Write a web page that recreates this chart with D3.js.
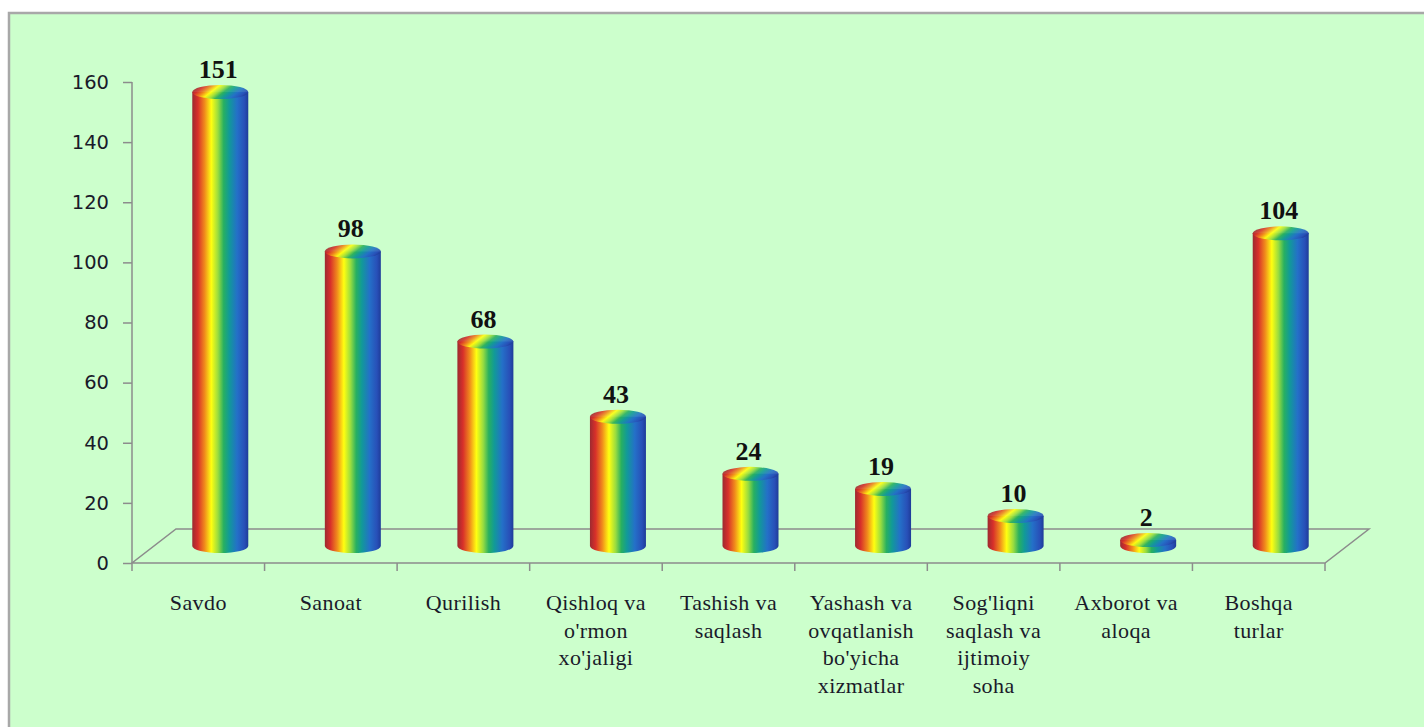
<!DOCTYPE html>
<html>
<head>
<meta charset="utf-8">
<script src="https://cdn.jsdelivr.net/npm/d3@7"></script>
<style>
  html, body { margin: 0; padding: 0; background: #fff; }
  svg { display: block; }
</style>
</head>
<body>
<div id="chart"></div>
<script>
// data
const categories = ['Savdo', 'Sanoat', 'Qurilish', 'Qishloq va', 'Tashish va', 'Yashash va', "Sog'liqni", 'Axborot va', 'Boshqa']
const categoryLabels = [
  ['Savdo'],
  ['Sanoat'],
  ['Qurilish'],
  ['Qishloq va', "o'rmon", "xo'jaligi"],
  ['Tashish va', 'saqlash'],
  ['Yashash va', 'ovqatlanish', "bo'yicha", 'xizmatlar'],
  ["Sog'liqni", 'saqlash va', 'ijtimoiy', 'soha'],
  ['Axborot va', 'aloqa'],
  ['Boshqa', 'turlar']
]
const values = [151, 98, 68, 43, 24, 19, 10, 2, 104]
const yTicks = [0, 20, 40, 60, 80, 100, 120, 140, 160]

const W = 1424, H = 727
const margin = { top: 82, left: 132, right: 99, bottom: 164 }
const depth = { dx: 44, dy: -34 }   // 3d floor offset
const cylW = 56, ry = 7
const serif = "'Liberation Serif', 'Times New Roman', serif"

const svg = d3.select('#chart').append('svg')
  .attr('width', W).attr('height', H)

// background frame
svg.append('rect')
  .attr('x', 9).attr('y', 13)
  .attr('width', W + 20).attr('height', H + 20)
  .attr('fill', '#ccffcc')
  .attr('stroke', '#a8a8a8').attr('stroke-width', 2.5)

const x = d3.scaleBand()
  .domain(categories)
  .range([margin.left, W - margin.right])
const y = d3.scaleLinear()
  .domain([0, 160])
  .range([H - margin.bottom, margin.top])

// gradients
const defs = svg.append('defs')
const stops = [
  [0, '#9c2a30'], [0.1, '#d8302a'], [0.22, '#f08a1c'], [0.34, '#ffff10'],
  [0.46, '#98dc40'], [0.56, '#28b060'], [0.66, '#119a98'], [0.8, '#2470c8'],
  [0.93, '#2850b8'], [1, '#1e3c98']
]
const sideGrad = defs.append('linearGradient').attr('id', 'side')
  .attr('x1', 0).attr('x2', 1).attr('y1', 0).attr('y2', 0)
sideGrad.selectAll('stop').data(stops).join('stop')
  .attr('offset', d => d[0]).attr('stop-color', d => d[1])
const topGrad = defs.append('linearGradient').attr('id', 'topface')
  .attr('x1', 0).attr('x2', 1).attr('y1', 0).attr('y2', 0)
  .attr('gradientTransform', 'rotate(18 0.5 0.5)')
topGrad.selectAll('stop').data(stops).join('stop')
  .attr('offset', d => d[0]).attr('stop-color', d => d[1])
  .attr('stop-opacity', 0.9)

const axisColor = '#8c8c8c'
const y0 = y(0)

// floor
svg.append('path')
  .attr('d', `M${x.range()[0]},${y0} L${x.range()[1]},${y0} L${x.range()[1] + depth.dx},${y0 + depth.dy} L${x.range()[0] + depth.dx},${y0 + depth.dy} Z`)
  .attr('fill', 'none').attr('stroke', axisColor).attr('stroke-width', 1.5)

// y axis
const yAxis = svg.append('g')
  .attr('transform', `translate(${margin.left},0)`)
  .call(d3.axisLeft(y).tickValues(yTicks).tickSize(9).tickPadding(14))
yAxis.selectAll('path, line').attr('stroke', axisColor).attr('stroke-width', 1.5)
yAxis.select('.domain').attr('d', `M0,${y.range()[1]}V${y.range()[0]}`)
yAxis.selectAll('text')
  .attr('font-family', "'DejaVu Sans', Verdana, sans-serif")
  .attr('font-size', 19.5).attr('fill', '#1a1a2a')

// x ticks at band boundaries
const bounds = categories.map(c => x(c)).concat([x.range()[1]])
svg.append('g').selectAll('line').data(bounds).join('line')
  .attr('x1', d => d).attr('x2', d => d)
  .attr('y1', y0).attr('y2', y0 + 8)
  .attr('stroke', axisColor).attr('stroke-width', 1.5)

// cylinders
const baseY = y0 + depth.dy / 2
const h = v => y(0) - y(v)
const bars = svg.append('g').selectAll('g').data(values).join('g')
  .attr('transform', (d, i) => `translate(${x(categories[i]) + x.bandwidth() / 2 + depth.dx / 2},0)`)

bars.append('path')
  .attr('d', d => {
    const t = baseY - h(d)
    return `M${-cylW / 2},${t} L${-cylW / 2},${baseY} A${cylW / 2},${ry} 0 0 0 ${cylW / 2},${baseY} L${cylW / 2},${t} Z`
  })
  .attr('fill', 'url(#side)')
bars.append('ellipse')
  .attr('cx', 0).attr('cy', d => baseY - h(d))
  .attr('rx', cylW / 2).attr('ry', ry)
  .attr('fill', 'url(#topface)')

// value labels
bars.append('text')
  .attr('x', -2).attr('y', d => baseY - h(d) - 14)
  .attr('text-anchor', 'middle')
  .attr('font-family', serif)
  .attr('font-weight', 'bold').attr('font-size', 26)
  .attr('fill', '#111')
  .text(d => d)

// category labels
const labels = svg.append('g').selectAll('text').data(categoryLabels).join('text')
  .attr('text-anchor', 'middle')
  .attr('font-family', serif)
  .attr('font-size', 22).attr('letter-spacing', 0.4)
  .attr('fill', '#1a1a2a')
  .attr('transform', (d, i) => `translate(${x(categories[i]) + x.bandwidth() / 2},${y0 + 47})`)
labels.selectAll('tspan').data(d => d).join('tspan')
  .attr('x', 0).attr('dy', (d, i) => i === 0 ? 0 : 27.5)
  .text(d => d)
</script>
</body>
</html>
